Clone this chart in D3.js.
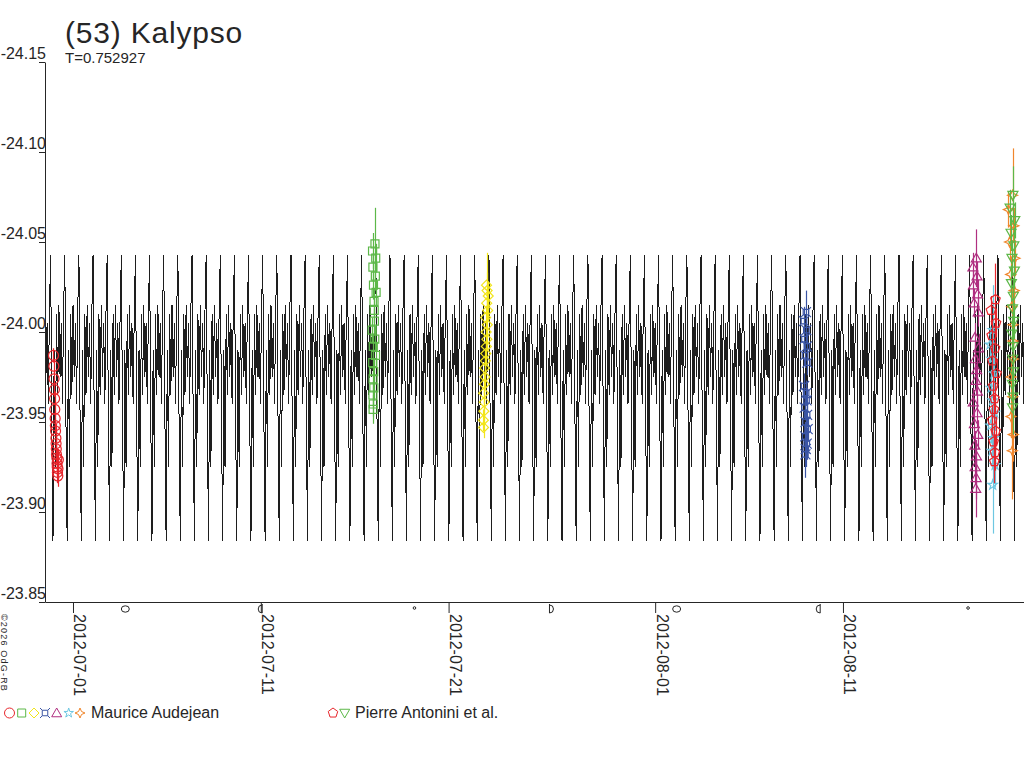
<!DOCTYPE html>
<html>
<head>
<meta charset="utf-8">
<script src="https://cdn.jsdelivr.net/npm/d3@7"></script>
<style>
  body { margin: 0; background: #fff; }
  svg { display: block; font-family: "Liberation Sans", Arial, sans-serif; }
</style>
</head>
<body>
<svg id="chart" width="1024" height="768"></svg>
<script>
const title = '(53) Kalypso';
const periodLabel = 'T=0.752927';
const period = 0.752927;          // days
const epochMin = -1.065;          // days after 2012-07-01 of a deep minimum
const startDate = '2012-06-29T12:13Z';
const endDate = '2012-08-20T15:22Z';
const t0 = Date.UTC(2012, 6, 1);

const magTicks = [-24.15, -24.10, -24.05, -24.00, -23.95, -23.90, -23.85];
const dateTicks = ['2012-07-01', '2012-07-11', '2012-07-21', '2012-08-01', '2012-08-11'];

// one period of the model curve (12 steps per period)
const modelShape = [-23.884, -23.990, -23.925, -24.010, -23.965, -24.015,
                    -23.975, -24.005, -23.960, -24.012, -24.043, -23.950];

const moonDates = ['2012-07-03T18:52Z', '2012-07-11T01:48Z', '2012-07-19T04:24Z', '2012-07-26T08:56Z',
                   '2012-08-02T03:27Z', '2012-08-09T18:55Z', '2012-08-17T15:54Z'];
const moonPhases = ['full', 'last', 'new', 'first', 'full', 'last', 'new'];

const observers = ['Maurice Audejean', 'Pierre Antonini et al.'];

// [days after 2012-07-01, magnitude, error]
const sess1 = [[-1.04,-23.987,0.004],[-1.02,-23.981,0.004],[-1.01,-23.974,0.004],[-0.99,-23.968,0.004],
  [-0.98,-23.963,0.004],[-0.97,-23.957,0.004],[-0.95,-23.952,0.004],[-0.94,-23.948,0.004],[-0.93,-23.945,0.004],
  [-0.91,-23.941,0.004],[-0.90,-23.938,0.004],[-0.89,-23.935,0.005],[-0.88,-23.932,0.005],[-0.86,-23.930,0.005],
  [-0.85,-23.927,0.005],[-0.84,-23.925,0.005],[-0.83,-23.922,0.006],[-0.81,-23.920,0.006],[-0.80,-23.924,0.006],
  [-0.78,-23.929,0.006]];
const sess2 = [[16.08,-24.049,0.020],[15.95,-24.045,0.010],[16.12,-24.041,0.008],[15.97,-24.036,0.008],
  [16.10,-24.031,0.008],[16.00,-24.026,0.008],[16.14,-24.022,0.007],[16.03,-24.017,0.007],[16.04,-24.012,0.007],
  [16.05,-24.006,0.007],[15.93,-24.001,0.007],[16.07,-23.996,0.007],[15.99,-23.992,0.007],[16.11,-23.987,0.007],
  [15.96,-23.983,0.007],[16.01,-23.978,0.007],[15.98,-23.974,0.007],[16.02,-23.969,0.007],[15.97,-23.965,0.007],
  [15.99,-23.960,0.007],[15.98,-23.957,0.008]];
const sess3 = [[21.86,-23.947,0.006],[21.85,-23.951,0.006],[21.88,-23.956,0.006],[21.90,-23.961,0.006],
  [21.87,-23.966,0.006],[21.91,-23.971,0.006],[21.94,-23.975,0.006],[21.92,-23.980,0.006],[21.96,-23.984,0.006],
  [21.98,-23.988,0.006],[22.01,-23.992,0.006],[22.04,-23.996,0.006],[22.00,-24.000,0.006],[22.06,-24.004,0.006],
  [21.97,-24.008,0.006],[22.08,-24.012,0.006],[22.03,-24.016,0.007],[22.11,-24.020,0.008],[22.05,-24.023,0.010],
  [22.02,-24.026,0.018]];
const sess4 = [[39.03,-24.011,0.012],[38.92,-24.006,0.008],[39.05,-24.001,0.007],[38.95,-23.996,0.007],
  [39.08,-23.992,0.007],[38.98,-23.987,0.007],[39.10,-23.983,0.007],[38.93,-23.970,0.007],[39.04,-23.966,0.007],
  [39.06,-23.962,0.007],[38.96,-23.958,0.007],[39.09,-23.954,0.007],[39.01,-23.950,0.007],[39.12,-23.946,0.007],
  [38.99,-23.942,0.008],[39.07,-23.938,0.009],[39.02,-23.935,0.010],[39.00,-23.932,0.013]];
const sess5 = [[48.10,-24.041,0.016],[47.92,-24.036,0.008],[48.14,-24.031,0.008],[47.95,-24.026,0.008],
  [48.17,-24.021,0.008],[47.98,-24.016,0.008],[48.20,-24.011,0.008],[48.03,-23.997,0.008],[48.22,-23.991,0.008],
  [48.05,-23.985,0.008],[48.12,-23.979,0.008],[48.08,-23.973,0.008],[48.16,-23.967,0.008],[47.94,-23.961,0.008],
  [48.14,-23.955,0.008],[48.00,-23.949,0.008],[48.18,-23.943,0.008],[48.02,-23.937,0.008],[48.11,-23.931,0.009],
  [48.04,-23.925,0.010],[48.09,-23.919,0.012],[48.07,-23.913,0.016]];
const sess6 = [[48.99,-24.001,0.025],[48.83,-23.993,0.010],[48.92,-23.985,0.010],[49.05,-23.977,0.010],
  [48.89,-23.969,0.010],[48.97,-23.962,0.010],[49.08,-23.955,0.010],[48.86,-23.948,0.010],[49.02,-23.941,0.010],
  [48.94,-23.934,0.010],[49.10,-23.926,0.012],[48.97,-23.915,0.027]];
const sess7 = [[50.03,-24.076,0.026],[49.81,-24.068,0.010],[50.10,-24.059,0.010],[49.87,-24.050,0.010],
  [50.16,-24.041,0.010],[49.93,-24.032,0.010],[50.12,-24.023,0.010],[49.99,-24.014,0.010],[50.06,-24.004,0.010],
  [50.05,-23.995,0.010],[50.08,-23.985,0.010],[49.96,-23.975,0.010],[50.04,-23.964,0.010],[49.95,-23.953,0.012],
  [50.07,-23.943,0.015],[50.02,-23.934,0.027]];
const sessP1 = [[49.12,-24.018,0.020],[48.88,-24.012,0.008],[49.15,-24.005,0.008],[48.92,-23.998,0.008],
  [49.10,-23.991,0.008],[48.96,-23.984,0.008],[49.18,-23.977,0.008],[49.00,-23.970,0.008],[49.07,-23.963,0.008],
  [49.04,-23.957,0.008],[48.94,-23.951,0.008],[49.13,-23.945,0.008],[49.02,-23.939,0.009],[49.09,-23.933,0.010],
  [49.06,-23.928,0.012]];
const sessP2 = [[50.05,-24.076,0.016],[49.90,-24.069,0.010],[50.15,-24.062,0.010],[49.95,-24.055,0.010],
  [50.10,-24.048,0.010],[50.00,-24.041,0.010],[50.13,-24.034,0.010],[49.97,-24.027,0.010],[50.07,-24.020,0.010],
  [50.03,-24.013,0.010],[50.09,-24.006,0.010],[49.99,-23.999,0.010],[50.06,-23.992,0.010],[50.04,-23.985,0.010],
  [50.08,-23.978,0.010],[50.02,-23.971,0.010],[50.05,-23.964,0.012],[50.03,-23.958,0.015]];

const sessionData = [sess1, sess2, sess3, sess4, sess5, sess6, sess7, sessP1, sessP2];
const sessionObserver = [0, 0, 0, 0, 0, 0, 0, 1, 1];
const sessionSymbols = ['circle', 'square', 'diamond', 'xsquare', 'triangle', 'star', 'star4', 'pentagon', 'triangleDown'];
const sessionColors = ['#e8262c', '#5cb848', '#f2e51b', '#3b55a5', '#b02f80', '#6dc7e2', '#f0862c', '#e8262c', '#5cb848'];

const ink = '#262626';
const svg = d3.select('#chart');
const toDate = t => new Date(t0 + t * 864e5);

const x = d3.scaleUtc().domain([new Date(startDate), new Date(endDate)]).range([45, 1024]);
const y = d3.scaleLinear().domain([-24.15, -23.85]).range([62, 602]);

function symPath(kind, r) {
  switch (kind) {
    case 'circle': return d3.symbol(d3.symbolCircle, Math.PI * r * r)();
    case 'square': { const s = r * 0.8; return `M${-s},${-s}H${s}V${s}H${-s}Z`; }
    case 'diamond': return `M0,${-r}L${r},0L0,${r}L${-r},0Z`;
    case 'xsquare': {
      const s = r * 0.55;
      return `M${-s},${-s}H${s}V${s}H${-s}Z M${-s},${-s}L${-r},${-r} M${s},${-s}L${r},${-r} M${s},${s}L${r},${r} M${-s},${s}L${-r},${r}`;
    }
    case 'triangle': return `M0,${-r}L${r},${r * 0.75}L${-r},${r * 0.75}Z`;
    case 'triangleDown': return `M0,${r}L${r},${-r * 0.75}L${-r},${-r * 0.75}Z`;
    case 'star': return d3.symbol(d3.symbolStar, r * r / 0.89)();
    case 'star4': { const q = r * 0.3; return `M0,${-r}L${q},${-q}L${r},0L${q},${q}L0,${r}L${-q},${q}L${-r},0L${-q},${-q}Z`; }
    case 'pentagon': {
      const p = d3.range(5).map(i => {
        const a = -Math.PI / 2 + i * 2 * Math.PI / 5;
        return [r * Math.cos(a), r * Math.sin(a)];
      });
      return 'M' + p.join('L') + 'Z';
    }
  }
}

// clip
svg.append('clipPath').attr('id', 'plot')
  .append('rect').attr('x', 45).attr('y', 0).attr('width', 979).attr('height', 602);

// model curve
const step = period / modelShape.length;
const kStart = Math.floor((-1.6 - epochMin) / step);
const kEnd = Math.ceil((50.8 - epochMin) / step);
const model = d3.range(kStart, kEnd + 1).map(k => ({
  t: epochMin + k * step,
  mag: modelShape[((k % modelShape.length) + modelShape.length) % modelShape.length]
}));

const line = d3.line()
  .x(d => x(toDate(d.t)))
  .y(d => y(d.mag));

const plot = svg.append('g').attr('clip-path', 'url(#plot)');

plot.append('path')
  .datum(model)
  .attr('fill', 'none')
  .attr('stroke', '#1e1e1e')
  .attr('stroke-width', 1)
  .attr('shape-rendering', 'crispEdges')
  .attr('d', line);

// observations
sessionData.forEach((pts, i) => {
  const g = plot.append('g').attr('stroke', sessionColors[i]).attr('fill', 'none');
  g.selectAll('line').data(pts).join('line')
    .attr('x1', d => Math.round(x(toDate(d[0]))) + 0.5)
    .attr('x2', d => Math.round(x(toDate(d[0]))) + 0.5)
    .attr('y1', d => y(d[1] - d[2]))
    .attr('y2', d => y(d[1] + d[2]))
    .attr('stroke-width', 1.2);
  g.selectAll('path').data(pts).join('path')
    .attr('transform', d => `translate(${x(toDate(d[0]))},${y(d[1])})`)
    .attr('d', symPath(sessionSymbols[i], 5))
    .attr('stroke-width', 1.2);
});

// y axis
const yAxis = svg.append('g')
  .attr('transform', 'translate(45,0)')
  .call(d3.axisLeft(y).tickValues(magTicks).tickSize(6).tickSizeOuter(0).tickFormat(d => d.toFixed(2)));
yAxis.select('.domain').attr('stroke', ink);
yAxis.selectAll('.tick line').attr('stroke', ink);
yAxis.selectAll('.tick text')
  .attr('x', 1).attr('y', -4).attr('dy', null)
  .attr('fill', ink)
  .style('font-size', '16px')
  .style('font-family', '"Liberation Sans", Arial, sans-serif');

// x axis
const xAxis = svg.append('g')
  .attr('transform', 'translate(0,602)')
  .call(d3.axisBottom(x).tickValues(dateTicks.map(d => new Date(d + 'T00:00Z')))
    .tickSize(11).tickSizeOuter(0).tickFormat(d3.utcFormat('%Y-%m-%d')));
xAxis.select('.domain').attr('stroke', ink);
xAxis.selectAll('.tick line').attr('stroke', ink);
xAxis.selectAll('.tick text')
  .attr('transform', 'rotate(90)')
  .attr('text-anchor', 'start')
  .attr('x', 12).attr('y', -1).attr('dy', null)
  .attr('fill', ink)
  .style('font-size', '16px')
  .style('font-family', '"Liberation Sans", Arial, sans-serif');

// moon phases
const moonY = 609;
const moon = svg.append('g').attr('stroke', ink).attr('fill', 'none').attr('stroke-width', 1);
moonDates.forEach((d, i) => {
  const mx = x(new Date(d));
  const ph = moonPhases[i];
  const g = moon.append('g').attr('transform', `translate(${mx},${moonY})`);
  if (ph === 'full') {
    g.append('ellipse').attr('rx', 4).attr('ry', 3.2);
  } else if (ph === 'new') {
    g.append('circle').attr('r', 1.3).attr('cy', -1);
  } else {
    const dir = ph === 'last' ? -1 : 1;
    g.append('path').attr('d', `M0,-4A4,4 0 0 ${dir > 0 ? 1 : 0} 0,4`);
    g.append('line').attr('x1', 0).attr('x2', 0).attr('y1', -5).attr('y2', 4);
  }
});

// title
svg.append('text').attr('x', 65).attr('y', 43)
  .style('font-size', '30px').style('letter-spacing', '0.8px')
  .attr('fill', ink).text(title);
svg.append('text').attr('x', 65).attr('y', 63)
  .style('font-size', '15px')
  .attr('fill', ink).text(periodLabel);

// copyright
svg.append('text')
  .attr('transform', 'translate(1,614) rotate(90)')
  .style('font-size', '9px').style('letter-spacing', '1.2px')
  .attr('fill', ink).text('©2026 OdG-RB');

// legend
const legendX = [[9.5, 21.7, 34, 45, 56.7, 68.7, 80], [333, 344.7]];
const legendTextX = [91, 355];
observers.forEach((name, oi) => {
  const idx = sessionObserver.map((o, i) => o === oi ? i : -1).filter(i => i >= 0);
  idx.forEach((si, j) => {
    svg.append('path')
      .attr('transform', `translate(${legendX[oi][j]},713)`)
      .attr('d', symPath(sessionSymbols[si], 5))
      .attr('fill', 'none').attr('stroke', sessionColors[si]).attr('stroke-width', 1);
  });
  svg.append('text').attr('x', legendTextX[oi]).attr('y', 718)
    .style('font-size', '16px').attr('fill', ink).text(name);
});
</script>
</body>
</html>
